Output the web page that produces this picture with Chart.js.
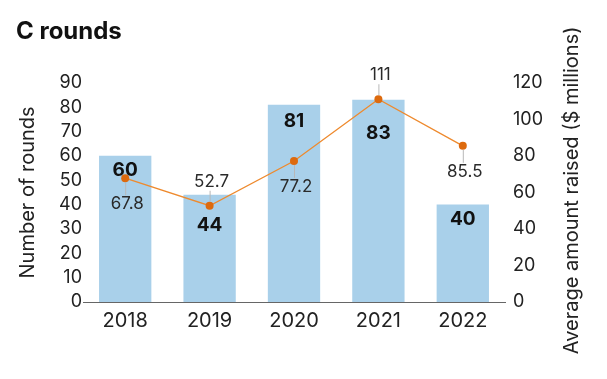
<!DOCTYPE html>
<html>
<head>
<meta charset="utf-8">
<script src="https://cdn.jsdelivr.net/npm/chart.js@4.4.1/dist/chart.umd.min.js"></script>
<style>
  html, body { margin: 0; padding: 0; background: #fff; }
  #wrap { width: 607px; height: 379px; position: relative; }
</style>
</head>
<body>
<div id="wrap"><canvas id="c" width="607" height="379"></canvas></div>
<script>
// ---- data ----
const years = ['2018', '2019', '2020', '2021', '2022'];
const rounds = [60, 44, 81, 83, 40];
const avgRaised = [67.8, 52.7, 77.2, 111, 85.5];
const leftTicks = [0, 10, 20, 30, 40, 50, 60, 70, 80, 90];
const rightTicks = [0, 20, 40, 60, 80, 100, 120];

// ---- label placement config (style, not data) ----
const barLabelDrop = [12, 28, 15, 31, 13];
const lineLabelSide = ['below', 'above', 'below', 'above', 'below'];

const FONT = 'Inter, "Open Sans", "Liberation Sans", sans-serif';
const TXT = '#222';

const labelPlugin = {
  id: 'labels',
  afterDatasetsDraw(chart) {
    const ctx = chart.ctx;
    ctx.save();
    // bar labels
    const barMeta = chart.getDatasetMeta(0);
    ctx.font = 'bold 19px ' + FONT;
    ctx.fillStyle = '#111';
    ctx.textAlign = 'center';
    ctx.textBaseline = 'middle';
    barMeta.data.forEach((el, i) => {
      ctx.fillText(String(rounds[i]), el.x, el.y + barLabelDrop[i] + 2);
    });
    // line labels with leader lines
    const lineMeta = chart.getDatasetMeta(1);
    ctx.font = '17px ' + FONT;
    lineMeta.data.forEach((el, i) => {
      const below = lineLabelSide[i] === 'below';
      const ly = below ? el.y + 26 : el.y - 24;
      ctx.strokeStyle = '#b8b8b8';
      ctx.lineWidth = 1;
      ctx.beginPath();
      if (below) { ctx.moveTo(el.x + 0.5, el.y + 4); ctx.lineTo(el.x + 0.5, ly - 9); }
      else { ctx.moveTo(el.x + 0.5, ly + 9); ctx.lineTo(el.x + 0.5, el.y - 4); }
      ctx.stroke();
      ctx.fillStyle = '#2a2a2a';
      ctx.fillText(String(avgRaised[i]), el.x + 2, ly);
    });
    // right axis title (reads bottom-to-top)
    const ca = chart.chartArea;
    ctx.translate(572, (ca.top + ca.bottom) / 2 - 2);
    ctx.rotate(-Math.PI / 2);
    ctx.font = '20px ' + FONT;
    ctx.fillStyle = TXT;
    ctx.fillText('Average amount raised ($ millions)', 0, 0);
    ctx.restore();
  }
};

new Chart(document.getElementById('c'), {
  data: {
    labels: years,
    datasets: [
      {
        type: 'bar',
        data: rounds,
        yAxisID: 'y',
        backgroundColor: '#a9d0ea',
        barPercentage: 0.62,
        categoryPercentage: 1,
        order: 2
      },
      {
        type: 'line',
        data: avgRaised,
        yAxisID: 'y1',
        borderColor: '#ee8a2e',
        borderWidth: 1.3,
        pointRadius: 4,
        pointBackgroundColor: '#dd6a0e',
        pointBorderWidth: 0,
        tension: 0,
        order: 1
      }
    ]
  },
  options: {
    responsive: false,
    animation: false,
    layout: { padding: { left: 16, right: 8, top: 0, bottom: 0 } },
    plugins: {
      legend: { display: false },
      tooltip: { enabled: false },
      title: {
        display: true,
        text: 'C rounds',
        align: 'start',
        color: '#111',
        font: { family: FONT, size: 24, weight: 'bold' },
        padding: { top: 17, bottom: 37 }
      }
    },
    scales: {
      x: {
        grid: { display: false, drawTicks: false },
        border: { display: true, color: '#666', width: 1 },
        ticks: { color: TXT, font: { family: FONT, size: 20 }, padding: 7 },
        afterFit(s) { s.height = 77; }
      },
      y: {
        position: 'left',
        min: 0, max: 90,
        afterBuildTicks(s) { s.ticks = leftTicks.map(v => ({ value: v })); },
        grid: { display: false, drawTicks: false },
        border: { display: false },
        ticks: { color: TXT, font: { family: FONT, size: 18 }, padding: 1, autoSkip: false },
        title: {
          display: true,
          text: 'Number of rounds',
          color: TXT,
          font: { family: FONT, size: 20 },
          padding: 0
        },
        afterFit(s) { s.width = 67; }
      },
      y1: {
        position: 'right',
        min: 0, max: 120,
        afterBuildTicks(s) { s.ticks = rightTicks.map(v => ({ value: v })); },
        grid: { display: false, drawTicks: false },
        border: { display: false },
        ticks: { color: TXT, font: { family: FONT, size: 18 }, padding: 8, autoSkip: false },
        afterFit(s) { s.width = 94; }
      }
    }
  },
  plugins: [labelPlugin]
});
</script>
</body>
</html>
